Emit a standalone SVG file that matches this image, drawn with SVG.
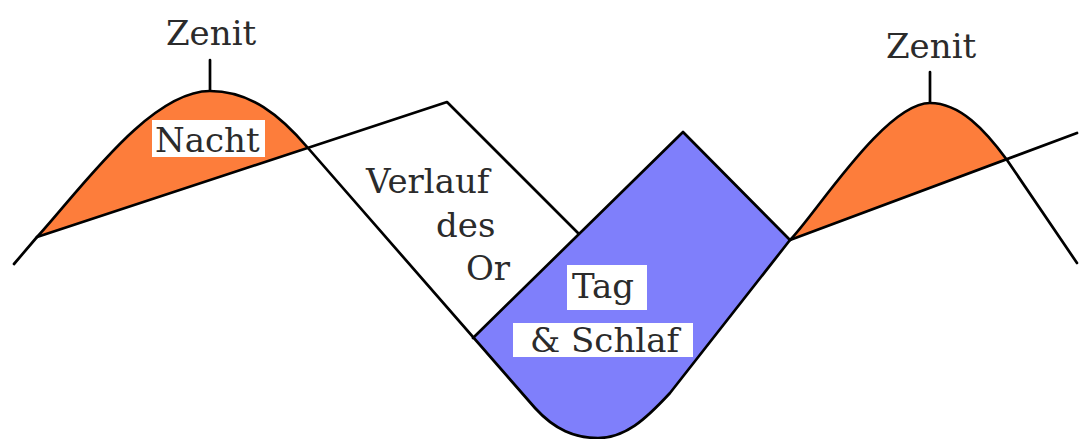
<svg xmlns="http://www.w3.org/2000/svg" width="1087" height="439" viewBox="0 0 1087 439">
<style>
.ln{fill:none;stroke:#000;stroke-width:2.7;stroke-linejoin:round;stroke-linecap:round}
.or{fill:#fd7d3b;stroke:none}
.bl{fill:#7f7ffb;stroke:none}
.t{font-family:"DejaVu Serif","Liberation Serif",serif;font-size:34px;fill:#2b2b2b}
.bg{fill:#fff}
</style>
<rect width="1087" height="439" fill="#fff"/>
<g id="nacht-left">
<path class="or" d="M37,237 C80,190 150,91 210,91 C250,91 280,115 308,148 Z"/>
</g>
<g id="tag-schlaf-area">
<path class="bl" d="M473,338 L683,132 L790,240 L670,393 C645,420 625,438 598,438 C575,438 555,430 535,408 Z"/>
</g>
<g id="nacht-right">
<path class="or" d="M790,240 C815,215 885,103 930,103 C960,103 985,130 1007,160 Z"/>
</g>
<g id="connectors">
<path class="ln" d="M14,264 L37,237 C80,190 150,91 210,91 C250,91 280,115 308,148 L535,408 C555,430 575,438 598,438 C625,438 645,420 670,393 L790,240 C815,215 885,103 930,103 C960,103 985,130 1007,160 L1077,263"/>
<path class="ln" d="M37,237 L447,102 L578,233"/>
<path class="ln" d="M473,338 L683,132 L790,240"/>
<path class="ln" d="M790,240 L1077,133"/>
<path class="ln" stroke-width="3" d="M210,60 L210,90"/>
<path class="ln" stroke-width="3" d="M930,72 L930,102"/>
</g>
<g id="zenit-left">
<text class="t" x="166" y="45">Zenit</text>
</g>
<g id="zenit-right">
<text class="t" x="886" y="58">Zenit</text>
</g>
<g id="nacht-label">
<rect class="bg" x="152" y="120" width="113" height="37"/>
<text class="t" x="155" y="152">Nacht</text>
</g>
<g id="verlauf-label">
<text class="t" x="366" y="193">Verlauf</text>
<text class="t" x="436" y="237">des</text>
<text class="t" x="466" y="280">Or</text>
</g>
<g id="tag-label">
<rect class="bg" x="567" y="265" width="80" height="45"/>
<text class="t" x="572" y="298">Tag</text>
<rect class="bg" x="513" y="323" width="180" height="34"/>
<text class="t" x="530" y="352">&amp; Schlaf</text>
</g>
</svg>
